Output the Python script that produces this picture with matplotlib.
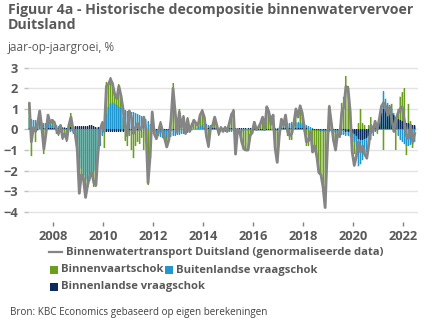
import numpy as np
import matplotlib
matplotlib.use("Agg")
import matplotlib.pyplot as plt
from matplotlib.lines import Line2D
from matplotlib.patches import Rectangle

plt.rcParams['font.family'] = ['Open Sans', 'DejaVu Sans']

# maandelijkse data, jan 2007 - jun 2022
start_jaar = 2007
jaar_ticks = [2008, 2010, 2012, 2014, 2016, 2018, 2020, 2022]
y_ticks = [3, 2, 1, 0, -1, -2, -3, -4]

# Binnenwatertransport Duitsland (genormaliseerde data)
transport = [
    1.25, -0.6, 0.1, -0.1, 0.3, 0.9, 0.1, -0.95, -0.2, 0.7, 0.3, 0.45,
    0.35, 0.0, -0.2, 0.2, -0.4, -0.2, -0.5, 0.2, 0.6, 0.0, -0.2, -0.95,
    -3.1, -2.2, -2.4, -3.3, -2.7, -2.3, -2.1, -2.6, -2.7, -1.1, 0.0, 0.3,
    -0.1, 2.1, 2.2, 2.45, 2.2, 1.7, 1.5, 2.1, 1.65, 1.0, 0.2, -0.3,
    0.9, 0.6, -0.2, 0.1, 0.3, 0.0, 0.1, 0.6, 0.0, -2.6, -1.3, 0.85,
    -0.2, -0.45, -0.1, 0.3, -0.1, -0.45, -0.85, -0.5, 0.45, 2.0, 0.85, -0.1,
    0.85, 0.1, 0.6, -0.2, 0.5, -0.1, 0.2, 0.45, 0.3, 0.2, 0.7, 0.9,
    0.6, -0.3, -0.8, 0.1, 0.2, 0.6, 0.2, -0.2, 0.1, -0.1, 0.1, -0.1,
    0.3, 0.7, 0.9, -1.2, 0.0, -0.1, -0.6, -0.95, -1.0, -1.0, -0.3, -0.15,
    0.35, 0.0, 0.1, 0.3, 0.6, 0.0, 1.1, 0.85, 0.25, 0.7, -0.9, -1.6,
    -0.3, 0.5, 0.2, 0.7, -0.1, -0.3, -0.2, 0.3, 1.0, 0.6, 1.15, 0.8,
    0.1, -0.6, -0.55, -0.1, -1.1, -0.8, -1.3, -2.1, -2.2, -2.8, -3.8, -1.1,
    1.1, 0.3, -0.5, -1.0, -0.2, -0.35, 0.85, 1.1, 2.1, 2.0, 0.9, -1.1,
    -1.75, -1.3, -0.6, -1.1, -0.8, -1.2, -1.4, -0.7, 0.2, -0.1, 0.4, 0.0,
    0.5, 1.1, 1.3, 1.15, 0.7, 1.1, 0.45, -0.1, 0.5, 0.8, 1.0, 1.1,
    0.45, -0.3, -0.45, 0.2, -0.6, -0.2,
]

# Binnenvaartschok
binnenvaart = [
    1.35, -1.3, 0.1, -0.6, 0.3, 0.9, 0.1, -1.2, -0.2, 0.7, 0.35, 0.5,
    0.3, -0.2, -0.3, 0.2, -0.5, -0.3, -0.6, 0.2, 0.8, -0.1, -0.3, -0.9,
    -3.15, -2.3, -2.5, -3.35, -2.8, -2.4, -2.3, -2.8, -2.8, -1.2, 0.1, 0.4,
    -0.9, 2.3, 2.25, 2.55, 2.3, 1.8, 1.6, 2.2, 1.7, 0.6, -0.55, -0.8,
    -0.3, -1.0, -1.4, -0.8, -0.6, -0.7, -0.4, -1.0, -0.6, -2.7, -1.4, 0.9,
    -0.1, -0.45, -0.2, 0.4, -0.1, -0.5, -0.9, -0.5, 0.45, 2.25, 0.9, -0.2,
    1.0, 0.1, 0.7, -0.2, 0.6, -0.1, 0.3, 0.5, 0.3, 0.2, 0.7, 1.0,
    0.6, -0.4, -0.9, 0.1, 0.2, 0.6, 0.2, -0.3, 0.1, -0.1, 0.15, -0.1,
    0.35, 0.8, 1.0, -1.2, 0.0, -0.1, -0.7, -1.0, -1.05, -1.0, -0.3, -0.2,
    0.4, 0.0, 0.1, 0.3, 0.6, 0.0, 1.15, 0.9, 0.2, 0.75, -0.9, -1.6,
    -0.3, 0.5, 0.1, 0.5, -0.3, -0.5, -0.5, 0.0, 0.7, 0.3, 1.0, 0.6,
    -0.1, -0.8, -0.8, -0.3, -1.1, -0.8, -1.3, -2.1, -2.2, -2.8, -3.75, -1.1,
    1.2, 0.3, -0.6, -1.0, -0.2, -0.3, 1.3, 1.6, 2.6, 2.1, 0.9, -0.6,
    -1.2, -0.5, 0.3, 1.0, 0.3, 0.2, -0.3, 0.2, 0.6, 0.1, 0.3, -0.2,
    0.4, 0.3, -1.0, 0.2, 0.5, 0.8, 1.25, 0.6, -1.0, 1.0, 1.6, 1.8,
    2.0, -1.25, 1.25, 0.4, -0.9, 0.1,
]

# Buitenlandse vraagschok
buitenland = [
    0.55, 0.5, 0.45, 0.45, 0.4, 0.35, 0.35, 0.3, 0.3, 0.25, 0.25, 0.2,
    0.2, 0.2, 0.15, 0.15, 0.1, 0.1, 0.05, 0.0, -0.1, -0.2, -0.4, -0.8,
    -1.4, -1.9, -2.2, -2.4, -2.5, -2.5, -2.3, -2.0, -1.7, -1.3, -0.8, -0.3,
    0.2, 0.8, 1.1, 1.25, 1.3, 1.25, 1.2, 1.1, 1.05, 1.0, 0.95, 0.9,
    0.9, 0.85, 0.85, 0.8, 0.75, 0.7, 0.65, 0.6, 0.5, 0.4, 0.25, 0.1,
    -0.1, -0.2, -0.3, -0.35, -0.4, -0.4, -0.4, -0.35, -0.35, -0.3, -0.3, -0.25,
    -0.25, -0.2, -0.2, -0.15, -0.15, -0.1, -0.05, 0.0, 0.05, 0.1, 0.15, 0.2,
    0.25, 0.25, 0.2, 0.2, 0.15, 0.1, 0.05, 0.0, -0.05, -0.05, -0.1, -0.1,
    -0.1, -0.1, -0.1, -0.1, -0.1, -0.1, -0.1, -0.05, -0.05, -0.05, -0.05, 0.0,
    0.0, -0.05, -0.05, -0.05, -0.05, -0.05, 0.0, 0.0, 0.0, 0.05, 0.05, 0.05,
    0.1, 0.15, 0.2, 0.25, 0.3, 0.3, 0.35, 0.35, 0.35, 0.35, 0.3, 0.3,
    0.25, 0.2, 0.15, 0.1, 0.05, 0.0, -0.05, -0.05, -0.1, -0.1, -0.1, -0.1,
    -0.1, -0.1, -0.15, -0.15, -0.2, -0.2, -0.25, -0.25, -0.3, -0.3, -0.35, -0.4,
    -0.6, -1.2, -1.8, -1.7, -1.5, -1.3, -1.1, -0.8, -0.5, -0.3, -0.1, 0.2,
    0.5, 1.2, 1.85, 1.5, 1.3, 1.2, 1.0, 0.8, 0.4, -0.3, -0.5, -0.6,
    -0.7, -0.8, -0.8, -0.75, -0.7, -0.6,
]

# Binnenlandse vraagschok
binnenland = [
    0.05, 0.05, 0.0, -0.05, -0.05, 0.0, 0.05, 0.05, 0.05, 0.05, 0.05, 0.05,
    0.05, 0.05, 0.05, 0.05, 0.05, 0.05, 0.05, 0.1, 0.1, 0.1, 0.15, 0.15,
    0.15, 0.15, 0.15, 0.15, 0.15, 0.2, 0.2, 0.15, 0.1, 0.1, 0.05, 0.0,
    -0.05, -0.1, -0.1, -0.1, -0.1, -0.1, -0.1, -0.1, -0.1, -0.1, -0.05, -0.05,
    -0.05, -0.05, -0.05, -0.05, -0.05, -0.05, 0.0, 0.0, 0.0, 0.0, 0.0, 0.0,
    -0.05, -0.05, -0.05, -0.05, -0.05, -0.05, -0.05, -0.05, -0.05, -0.05, 0.0, 0.0,
    0.02, 0.02, 0.02, 0.02, 0.02, 0.02, 0.02, 0.02, 0.02, 0.02, 0.02, 0.02,
    0.05, 0.05, 0.05, 0.05, 0.05, 0.05, 0.05, 0.05, 0.05, 0.05, 0.05, 0.05,
    0.05, 0.05, 0.05, 0.05, 0.05, 0.05, 0.05, 0.05, 0.05, 0.05, 0.05, 0.05,
    -0.05, -0.05, -0.05, -0.05, -0.05, -0.05, -0.05, -0.05, -0.05, -0.05, -0.05, -0.05,
    0.05, 0.05, 0.05, 0.05, 0.05, 0.05, 0.05, 0.05, 0.05, 0.05, 0.05, 0.05,
    0.05, 0.05, 0.0, 0.0, -0.05, -0.05, -0.05, -0.05, -0.05, -0.05, -0.05, -0.05,
    -0.05, -0.05, -0.05, -0.05, -0.05, -0.05, -0.05, -0.05, -0.1, -0.1, -0.1, -0.15,
    -0.2, -0.3, -0.45, -0.5, -0.5, -0.45, -0.4, -0.3, -0.2, -0.1, 0.1, 0.3,
    0.5, 0.8, 1.0, 1.1, 1.0, 0.9, 0.8, 0.7, 0.6, 0.5, 0.45, 0.4,
    0.35, 0.3, 0.3, 0.25, 0.2, 0.2,
]

GROEN = '#6a9e1f'
BLAUW = '#2196cf'
NAVY = '#0c2b5c'
GRIJS = '#858585'
TEKST = '#595959'

n = len(transport)
maand = 1 / 12
x = start_jaar + (np.arange(n) + 0.5) * maand

fig = plt.figure(figsize=(4.32, 3.32), dpi=100)
ax = fig.add_axes([28 / 432, 1 - 222 / 332, 390 / 432, (222 - 64.7) / 332])

# lichte vulling per reeks (waar ze overlappen ontstaat de mengkleur)
for reeks, kleur, a in [(binnenvaart, GROEN, 0.55), (buitenland, BLAUW, 0.5),
                        (binnenland, NAVY, 0.5)]:
    ax.bar(x, reeks, width=maand, color=kleur, alpha=a, linewidth=0,
           snap=False, zorder=2)

# smalle staven per maand
for reeks, kleur in [(binnenvaart, GROEN), (buitenland, BLAUW), (binnenland, NAVY)]:
    ax.bar(x, reeks, width=0.45 * maand, color=kleur, linewidth=0, zorder=3)

ax.plot(x, transport, color=GRIJS, lw=2.0, zorder=5, solid_joinstyle='round')

ax.set_xlim(start_jaar - 0.01, 2022.59)
ax.set_ylim(-4.5, 3.15)
ax.set_xticks(jaar_ticks)
ax.set_yticks(y_ticks)
ax.grid(axis='y', color='#e3e3e3', lw=1, zorder=0)
ax.set_axisbelow(True)
for s in ax.spines.values():
    s.set_visible(False)
ax.tick_params(axis='x', length=3, width=1, color='#808080', pad=3,
               labelsize=9.3, labelcolor=TEKST)
ax.tick_params(axis='y', length=3, width=1, color='#bfbfbf', pad=4,
               labelsize=9.3, labelcolor=TEKST)
for lab in ax.get_xticklabels() + ax.get_yticklabels():
    lab.set_fontweight('bold')

# titel en ondertitel
fig.text(8 / 432, 1 - 3 / 332, 'Figuur 4a - Historische decompositie binnenwatervervoer\nDuitsland',
         ha='left', va='top', fontsize=10.2, fontweight='bold', color=TEKST, linespacing=1.05)
fig.text(8 / 432, 1 - 48 / 332, 'jaar-op-jaargroei, %', ha='left', va='center',
         fontsize=8.5, color=TEKST)

# legenda
def fx(px):
    return px / 432

def fy(py):
    return 1 - py / 332

fig.add_artist(Line2D([fx(49), fx(62)], [fy(252), fy(252)], color=GRIJS, lw=1.6))
fig.text(fx(66), fy(252), 'Binnenwatertransport Duitsland (genormaliseerde data)',
         ha='left', va='center', fontsize=8.1, fontweight='bold', color=TEKST)

items = [(50, 270, GROEN, 'Binnenvaartschok'),
         (165, 270, BLAUW, 'Buitenlandse vraagschok'),
         (50, 287, NAVY, 'Binnenlandse vraagschok')]
for px, py, kleur, naam in items:
    fig.add_artist(Rectangle((fx(px), fy(py + 4)), 8 / 432, 8 / 332,
                             transform=fig.transFigure, color=kleur, lw=0))
    fig.text(fx(px + 11), fy(py), naam, ha='left', va='center',
             fontsize=8.1, fontweight='bold', color=TEKST)

fig.text(fx(10), fy(313), 'Bron: KBC Economics gebaseerd op eigen berekeningen',
         ha='left', va='center', fontsize=7.1, color='#404040')

fig.savefig('out.png', dpi=100)
